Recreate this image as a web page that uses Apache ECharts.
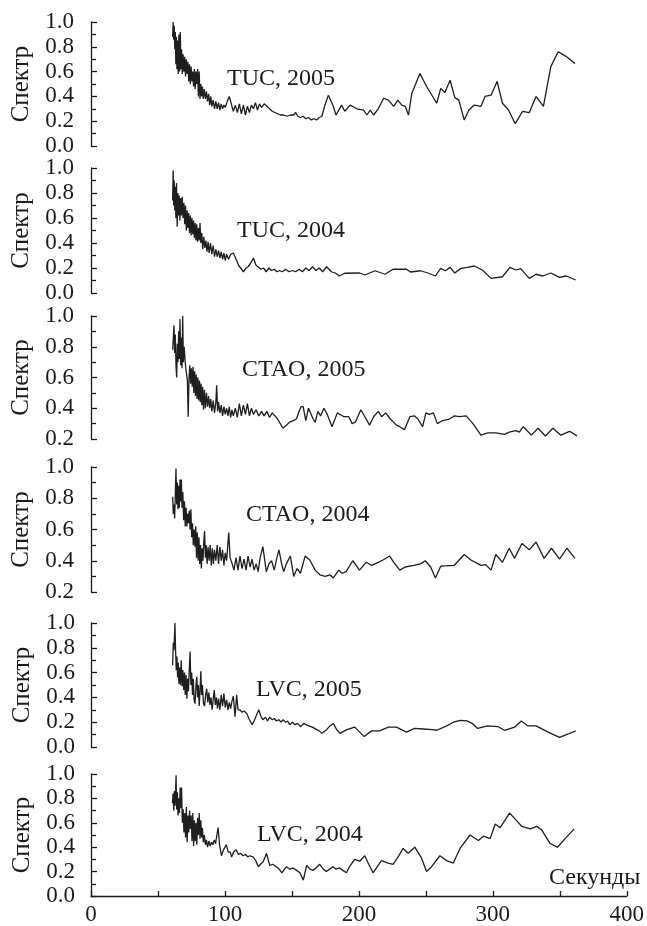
<!DOCTYPE html>
<html>
<head>
<meta charset="utf-8">
<script src="https://cdn.jsdelivr.net/npm/echarts@6/dist/echarts.min.js"></script>
<style>html,body{margin:0;padding:0;background:#fff}#c{width:647px;height:926px}</style>
</head>
<body>
<div id="c"></div>
<script>
// Panel labels
const panelLabels = ['TUC, 2005', 'TUC, 2004', 'CTAO, 2005', 'CTAO, 2004', 'LVC, 2005', 'LVC, 2004'];
const yName = 'Спектр';
const xName = 'Секунды';
const yMins = [0, 0, 0.2, 0.2, 0, 0];
const yMaxs = [1, 1, 1, 1, 1, 1];

// Series values: [seconds, spectrum]
const tuc2005 = [[60.8,0.88],[61.2,1.0],[61.6,0.86],[62.0,0.97],[62.4,0.78],[62.8,0.92],[63.2,0.66],[63.6,0.88],[64.0,0.62],[64.5,0.85],[65.0,0.58],[65.5,0.9],[66.0,0.6],[66.5,0.92],[67.0,0.62],[67.5,0.78],[68.0,0.58],[68.6,0.74],[69.2,0.6],[69.8,0.72],[70.4,0.56],[71.0,0.7],[71.6,0.58],[72.2,0.68],[72.8,0.52],[73.4,0.66],[74.0,0.5],[74.6,0.64],[75.2,0.52],[75.8,0.6],[76.4,0.48],[77.0,0.62],[77.6,0.46],[78.2,0.6],[78.8,0.5],[79.4,0.62],[80.0,0.4],[80.6,0.6],[81.2,0.38],[81.8,0.5],[82.4,0.4],[83.0,0.48],[83.6,0.38],[84.4,0.46],[85.2,0.38],[86.0,0.44],[86.8,0.36],[87.6,0.42],[88.4,0.33],[89.2,0.4],[90.0,0.32],[91.0,0.37],[92.0,0.3],[93.0,0.36],[94.0,0.3],[95.0,0.35],[96.0,0.29],[97.0,0.34],[98.0,0.3],[99.0,0.33],[100.0,0.31],[101.5,0.36],[103.0,0.4],[104.5,0.34],[106.0,0.28],[107.5,0.33],[109.0,0.27],[110.5,0.34],[112.0,0.26],[113.5,0.33],[115.0,0.25],[116.5,0.32],[118.0,0.27],[119.5,0.33],[121.0,0.3],[122.5,0.35],[124.0,0.29],[125.5,0.34],[127.0,0.31],[129.0,0.34],[131.0,0.32],[133.0,0.3],[135.0,0.28],[137.0,0.27],[139.0,0.26],[141.0,0.25],[143.5,0.25],[146.0,0.24],[148.5,0.25],[151.0,0.25],[152.5,0.27],[154.0,0.24],[156.0,0.23],[158.0,0.24],[160.0,0.22],[162.0,0.23],[164.0,0.21],[166.0,0.22],[168.0,0.21],[170.0,0.23],[172.0,0.24],[174.0,0.32],[176.8,0.41],[180.5,0.32],[182.5,0.25],[186.7,0.33],[189,0.28],[193,0.33],[198,0.30],[203,0.29],[205.5,0.25],[208,0.29],[210.5,0.25],[214,0.30],[218,0.385],[221.5,0.37],[225.5,0.32],[228.5,0.37],[231.5,0.33],[234,0.32],[236.5,0.25],[239,0.425],[245,0.585],[250,0.48],[257.5,0.345],[260.5,0.465],[263.5,0.43],[267.5,0.53],[271,0.39],[274,0.37],[278,0.21],[281.5,0.29],[285.5,0.33],[290.5,0.32],[293.5,0.40],[298,0.41],[302.5,0.52],[306.5,0.345],[311,0.29],[316,0.18],[321.5,0.28],[326.5,0.27],[331.5,0.40],[337,0.32],[342.5,0.64],[348,0.76],[353.5,0.725],[360.5,0.665]];

const tuc2004 = [[60.8,0.74],[61.2,0.98],[61.6,0.7],[62.0,0.9],[62.4,0.66],[62.8,0.85],[63.2,0.6],[63.7,0.88],[64.2,0.53],[64.7,0.8],[65.2,0.62],[65.7,0.78],[66.2,0.58],[66.8,0.76],[67.4,0.62],[68.0,0.77],[68.6,0.6],[69.2,0.72],[69.8,0.55],[70.4,0.7],[71.0,0.5],[71.6,0.66],[72.2,0.52],[72.8,0.64],[73.4,0.48],[74.0,0.62],[74.6,0.46],[75.2,0.6],[75.8,0.47],[76.4,0.58],[77.0,0.44],[77.6,0.56],[78.2,0.42],[78.8,0.55],[79.4,0.41],[80.0,0.52],[80.6,0.42],[81.2,0.56],[81.8,0.4],[82.5,0.48],[83.2,0.35],[84.0,0.45],[84.8,0.36],[85.6,0.42],[86.4,0.33],[87.2,0.41],[88.0,0.32],[89.0,0.4],[90.0,0.31],[91.0,0.38],[92.0,0.29],[93.0,0.35],[94.0,0.29],[95.0,0.34],[96.0,0.28],[97.0,0.33],[98.0,0.27],[99.0,0.32],[100.0,0.26],[101.0,0.31],[102.5,0.27],[104.0,0.31],[106.0,0.32],[108.5,0.26],[110.0,0.22],[111.5,0.2],[113.5,0.17],[115.5,0.2],[117.0,0.21],[119.0,0.24],[121.0,0.28],[123.0,0.22],[124.5,0.21],[126.5,0.19],[128.5,0.2],[130.5,0.17],[132.5,0.2],[134.5,0.18],[136.5,0.19],[138.5,0.17],[140.5,0.18],[142.5,0.17],[145,0.19],[147.5,0.17],[150,0.18],[152.5,0.17],[155,0.19],[157.5,0.17],[160,0.2],[162.5,0.18],[165,0.21],[167.5,0.18],[170,0.2],[172.5,0.17],[175.5,0.21],[179,0.17],[182,0.16],[185,0.136],[189,0.158],[200,0.16],[204,0.144],[211.5,0.178],[219,0.15],[225,0.19],[235,0.19],[238,0.168],[245.5,0.178],[251.5,0.158],[256.5,0.136],[260.5,0.197],[264,0.178],[267.5,0.205],[271,0.16],[275.5,0.197],[280.5,0.205],[285.5,0.216],[291.5,0.184],[298,0.117],[306.5,0.13],[312,0.205],[316.5,0.184],[320,0.195],[326.5,0.117],[331.5,0.15],[336.5,0.136],[342.5,0.16],[349,0.125],[354,0.136],[361,0.104]];

const ctao2005 = [[60.8,0.78],[61.3,0.86],[61.8,0.94],[62.3,0.76],[62.8,0.88],[63.3,0.68],[63.8,0.6],[64.3,0.82],[64.8,0.7],[65.3,0.9],[65.8,0.72],[66.3,0.98],[66.8,0.68],[67.3,0.86],[67.8,0.66],[68.3,1.0],[68.8,0.7],[69.4,0.8],[70.0,0.72],[70.6,0.66],[71.2,0.62],[71.8,0.58],[72.4,0.345],[73.0,0.6],[73.6,0.68],[74.2,0.56],[74.8,0.66],[75.4,0.54],[76.0,0.67],[76.6,0.5],[77.2,0.64],[77.8,0.48],[78.4,0.62],[79.0,0.46],[79.6,0.6],[80.2,0.45],[80.8,0.58],[81.4,0.44],[82.0,0.56],[82.6,0.42],[83.2,0.54],[83.8,0.39],[84.5,0.52],[85.2,0.4],[86.0,0.5],[86.8,0.41],[87.6,0.48],[88.4,0.4],[89.2,0.46],[90.0,0.38],[91.0,0.45],[92.0,0.37],[93.0,0.44],[93.6,0.55],[94.3,0.38],[95.0,0.44],[96.0,0.37],[97.0,0.42],[98.0,0.35],[99.0,0.41],[100.0,0.36],[101.0,0.4],[102.0,0.35],[103.0,0.41],[104.0,0.34],[105.0,0.39],[106.0,0.35],[107.5,0.4],[109.0,0.34],[110.5,0.43],[112.0,0.35],[113.5,0.42],[115.0,0.36],[116.5,0.43],[118.0,0.35],[119.5,0.4],[121.0,0.36],[123.0,0.39],[125.0,0.35],[127.0,0.38],[129.0,0.35],[131.0,0.38],[133.0,0.34],[135.0,0.37],[137.0,0.35],[139.0,0.33],[141.0,0.3],[143.0,0.27],[145.5,0.29],[148.0,0.31],[150.5,0.32],[153.0,0.33],[155.0,0.38],[156.5,0.41],[158.0,0.41],[160.0,0.32],[162.0,0.4],[164.0,0.36],[165.5,0.33],[167.0,0.31],[169.0,0.38],[171.0,0.35],[173.5,0.40],[176.0,0.36],[179.5,0.28],[183.5,0.37],[188.5,0.345],[192,0.345],[194.5,0.30],[197,0.31],[201,0.39],[204,0.345],[207.5,0.29],[210.5,0.345],[214,0.38],[216.5,0.345],[219.5,0.37],[223,0.33],[227.5,0.29],[230,0.28],[233.5,0.26],[237.5,0.345],[241,0.35],[243.5,0.33],[247,0.28],[249.5,0.37],[252,0.36],[255,0.37],[258,0.30],[262,0.32],[267,0.33],[270.5,0.35],[274.5,0.345],[279.5,0.35],[284.5,0.30],[290.5,0.225],[295.5,0.24],[301.5,0.24],[308,0.23],[311.5,0.245],[316.5,0.255],[319,0.245],[322,0.28],[328,0.225],[333,0.27],[338.5,0.22],[344,0.27],[350,0.225],[356.5,0.25],[362,0.22]];

const ctao2004 = [[60.8,0.81],[61.3,0.7],[61.8,0.76],[62.3,0.67],[62.8,0.82],[63.3,0.99],[63.8,0.76],[64.3,0.9],[64.8,0.73],[65.3,0.88],[65.8,0.74],[66.3,0.92],[66.8,0.78],[67.3,0.92],[67.8,0.74],[68.4,0.84],[69.0,0.66],[69.6,0.78],[70.2,0.62],[70.8,0.74],[71.4,0.62],[72.0,0.7],[72.6,0.64],[73.2,0.72],[73.8,0.6],[74.4,0.73],[75.0,0.55],[75.6,0.64],[76.2,0.5],[76.8,0.6],[77.4,0.49],[78.0,0.62],[78.6,0.42],[79.2,0.58],[79.8,0.4],[80.4,0.55],[81.0,0.38],[81.6,0.5],[82.2,0.35],[82.8,0.48],[83.4,0.4],[84.0,0.52],[84.6,0.59],[85.2,0.42],[85.8,0.5],[86.5,0.38],[87.2,0.49],[88.0,0.4],[88.8,0.5],[89.6,0.37],[90.4,0.48],[91.2,0.38],[92.0,0.47],[93.0,0.4],[94.0,0.5],[95.0,0.38],[96.0,0.49],[97.0,0.4],[98.0,0.47],[99.0,0.37],[100.0,0.45],[101.0,0.4],[102.6,0.58],[103.6,0.42],[105.0,0.385],[106.5,0.34],[108.0,0.42],[109.5,0.34],[111.0,0.43],[112.5,0.35],[114.0,0.41],[115.5,0.34],[117.0,0.43],[118.5,0.36],[120.0,0.41],[121.5,0.34],[123.0,0.38],[124.5,0.33],[126.0,0.42],[128.0,0.49],[130.6,0.33],[132.5,0.38],[134.5,0.4],[136.5,0.34],[138.5,0.42],[140.0,0.47],[142.0,0.38],[143.5,0.33],[145.5,0.38],[148.5,0.43],[151.0,0.3],[153.5,0.35],[156.0,0.32],[159.5,0.43],[163.0,0.405],[167.0,0.34],[170.5,0.31],[174.5,0.30],[178.0,0.31],[180.5,0.29],[184.5,0.34],[187,0.32],[190,0.33],[195,0.40],[200,0.34],[205,0.39],[209,0.37],[214,0.39],[217.5,0.405],[222.5,0.43],[225.5,0.39],[230,0.34],[234,0.36],[240.5,0.37],[245.5,0.38],[249,0.40],[253,0.36],[256.5,0.29],[260.5,0.365],[270.5,0.37],[278,0.44],[283,0.405],[290.5,0.37],[294,0.375],[298,0.34],[301.5,0.44],[306.5,0.39],[311.5,0.48],[315.5,0.415],[321,0.51],[326.5,0.47],[331.5,0.52],[337.5,0.415],[343,0.48],[349,0.41],[354.5,0.48],[360.5,0.415]];

const lvc2005 = [[60.8,0.66],[61.3,0.84],[61.8,0.78],[62.5,1.0],[63.0,0.78],[63.5,0.62],[64.0,0.73],[64.5,0.56],[65.0,0.68],[65.5,0.51],[66.0,0.64],[66.6,0.5],[67.2,0.7],[67.8,0.49],[68.4,0.62],[69.0,0.46],[69.6,0.6],[70.2,0.42],[70.8,0.58],[71.4,0.39],[72.0,0.55],[72.6,0.45],[73.2,0.62],[73.8,0.77],[74.4,0.5],[75.0,0.6],[75.6,0.42],[76.2,0.55],[76.8,0.38],[77.5,0.35],[78.2,0.5],[78.8,0.567],[79.4,0.4],[80.0,0.5],[80.6,0.33],[81.2,0.45],[81.8,0.61],[82.4,0.42],[83.0,0.5],[83.8,0.35],[84.6,0.33],[85.4,0.42],[86.2,0.47],[87.0,0.36],[87.8,0.44],[88.6,0.34],[89.4,0.4],[90.2,0.3],[91.0,0.38],[91.8,0.46],[92.6,0.34],[93.4,0.4],[94.2,0.31],[95.0,0.39],[96.0,0.3],[97.0,0.42],[98.0,0.33],[99.0,0.43],[100.0,0.32],[101.0,0.38],[102.0,0.3],[103.0,0.36],[104.0,0.31],[105.0,0.37],[106.0,0.41],[107.3,0.245],[108.5,0.42],[109.5,0.3],[111.0,0.3],[112.5,0.28],[114.0,0.29],[116.0,0.27],[118.0,0.22],[120.0,0.18],[121.5,0.21],[123.0,0.25],[125.0,0.30],[126.5,0.25],[128.0,0.22],[130.0,0.24],[131.5,0.21],[133.0,0.24],[135.0,0.22],[136.5,0.23],[138.0,0.21],[140.0,0.22],[141.5,0.20],[143.0,0.22],[145.0,0.2],[146.5,0.21],[148.0,0.18],[150.0,0.2],[152.0,0.18],[154.0,0.19],[156.0,0.164],[158.5,0.19],[162.0,0.17],[165.0,0.16],[168.0,0.14],[170.0,0.13],[172.0,0.11],[175.5,0.14],[178,0.17],[180.5,0.19],[183,0.14],[185.5,0.11],[190.5,0.14],[196.5,0.16],[203.5,0.084],[209,0.13],[215,0.13],[221.5,0.16],[227.5,0.16],[235,0.12],[241,0.15],[247.5,0.145],[254,0.14],[257.5,0.135],[265,0.17],[270,0.20],[275,0.215],[280,0.21],[284,0.19],[288,0.15],[295.5,0.17],[303,0.165],[308,0.135],[315.5,0.16],[320.5,0.21],[325.5,0.17],[331.5,0.17],[340.5,0.12],[349,0.078],[355.5,0.105],[361,0.13]];

const lvc2004 = [[60.8,0.76],[61.3,0.84],[61.8,0.7],[62.3,0.86],[62.8,0.74],[63.5,0.99],[64.0,0.71],[64.5,0.85],[65.0,0.66],[65.5,0.8],[66.0,0.68],[66.6,0.89],[67.2,0.72],[67.6,0.89],[68.2,0.6],[68.8,0.71],[69.4,0.52],[70.0,0.68],[70.6,0.48],[71.2,0.73],[71.8,0.44],[72.4,0.66],[73.0,0.52],[73.6,0.7],[74.2,0.55],[74.8,0.66],[75.4,0.45],[76.0,0.68],[76.6,0.41],[77.2,0.62],[77.8,0.45],[78.4,0.6],[79.0,0.42],[79.6,0.64],[80.2,0.5],[80.8,0.68],[81.4,0.47],[82.0,0.62],[82.6,0.48],[83.2,0.56],[83.8,0.44],[84.6,0.5],[85.4,0.42],[86.2,0.46],[87.0,0.4],[88.0,0.45],[89.0,0.41],[90.0,0.44],[91.0,0.42],[92.0,0.46],[93.0,0.43],[94.0,0.5],[94.9,0.56],[96.0,0.42],[97.4,0.33],[99.0,0.38],[101.0,0.42],[102.5,0.36],[104.0,0.36],[105.0,0.32],[106.5,0.36],[108.5,0.38],[110.0,0.34],[111.5,0.35],[113.5,0.33],[115.5,0.34],[117.0,0.32],[118.5,0.33],[121.0,0.32],[123.0,0.29],[125.0,0.24],[126.5,0.26],[128.5,0.28],[130.0,0.32],[131.0,0.35],[133.5,0.25],[135.5,0.26],[138.5,0.24],[140.5,0.22],[142.5,0.19],[144.5,0.22],[146.0,0.24],[148.5,0.22],[151.0,0.23],[153.5,0.21],[156.0,0.19],[158.5,0.13],[161.0,0.25],[163.5,0.22],[165.7,0.21],[168.0,0.23],[170.7,0.26],[173.5,0.22],[175.7,0.20],[178,0.22],[180.7,0.24],[183,0.22],[185.7,0.23],[188,0.21],[190.7,0.19],[193,0.24],[196.9,0.30],[200.6,0.285],[204.4,0.33],[206.9,0.27],[210.6,0.19],[216.8,0.29],[221.8,0.27],[225.5,0.26],[229.3,0.32],[233,0.39],[236.8,0.35],[241.8,0.40],[246.8,0.31],[250.5,0.20],[254.3,0.24],[260.5,0.33],[265.5,0.29],[270.5,0.27],[275.5,0.39],[283,0.50],[289.2,0.455],[293,0.49],[298,0.47],[301.8,0.59],[305.5,0.56],[312.5,0.68],[316.7,0.63],[321.7,0.57],[327.9,0.55],[332.9,0.57],[336.6,0.54],[342.8,0.43],[348.3,0.40],[354,0.47],[360.7,0.55]];

const seriesData = [tuc2005, tuc2004, ctao2005, ctao2004, lvc2005, lvc2004];

// Layout (pixels)
const gridTops = [22, 168, 316, 467, 623, 774];
const gridHeights = [124, 125, 123, 125, 124, 124];
const axisOffsets = [5, 5, 5, 5, 0, 0];
const labelPos = [[227, 79], [237, 231], [242, 370], [246, 515], [256, 690], [257, 835]];

const INK = '#1c1a1b';
const FONT = '"Liberation Serif", "Times New Roman", serif';

const grids = [], xAxes = [], yAxes = [], series = [], graphics = [];
for (let i = 0; i < 6; i++) {
  const last = i === 5;
  grids.push({ left: 91, width: 537, top: gridTops[i], height: gridHeights[i] });
  xAxes.push({
    type: 'value', gridIndex: i, min: 0, max: 400, interval: 100,
    show: last,
    axisLine: { show: true, onZero: false, lineStyle: { color: INK, width: 1.3 } },
    axisTick: { show: true, inside: true, length: 5, lineStyle: { color: INK, width: 1.3 } },
    minorTick: { show: true, splitNumber: 2, length: 5, lineStyle: { color: INK, width: 1.3 } },
    axisLabel: { show: true, color: INK, fontFamily: FONT, fontSize: 23, margin: 7 },
    splitLine: { show: false }
  });
  yAxes.push({
    type: 'value', gridIndex: i, min: yMins[i], max: yMaxs[i], interval: 0.2,
    offset: axisOffsets[i],
    name: yName, nameLocation: 'middle', nameRotate: 90,
    nameGap: axisOffsets[i] ? 50 : 54,
    nameTextStyle: { color: INK, fontFamily: FONT, fontSize: 25 },
    axisLine: { show: true, lineStyle: { color: INK, width: 1.3 } },
    axisTick: { show: true, inside: true, length: 6, lineStyle: { color: INK, width: 1.3 } },
    minorTick: { show: true, splitNumber: 2, length: 5, lineStyle: { color: INK, width: 1.3 } },
    axisLabel: { color: INK, fontFamily: FONT, fontSize: 23, margin: axisOffsets[i] ? 12 : 16,
      formatter: v => v.toFixed(1) },
    splitLine: { show: false }
  });
  series.push({
    type: 'line', xAxisIndex: i, yAxisIndex: i, data: seriesData[i],
    showSymbol: false, symbol: 'none', animation: false,
    lineStyle: { color: '#1e1e1e', width: 1.3 }
  });
  graphics.push({
    type: 'text', x: labelPos[i][0], y: labelPos[i][1],
    style: { text: panelLabels[i], fill: INK, font: '24px ' + FONT, textAlign: 'left', textVerticalAlign: 'middle' }
  });
}
graphics.push({
  type: 'text', x: 549, y: 878,
  style: { text: xName, fill: INK, font: '24px ' + FONT, textAlign: 'left', textVerticalAlign: 'middle' }
});

const chart = echarts.init(document.getElementById('c'), null, { renderer: 'canvas' });
chart.setOption({
  animation: false,
  backgroundColor: '#fff',
  grid: grids, xAxis: xAxes, yAxis: yAxes, series: series, graphic: graphics
});
</script>
</body>
</html>
